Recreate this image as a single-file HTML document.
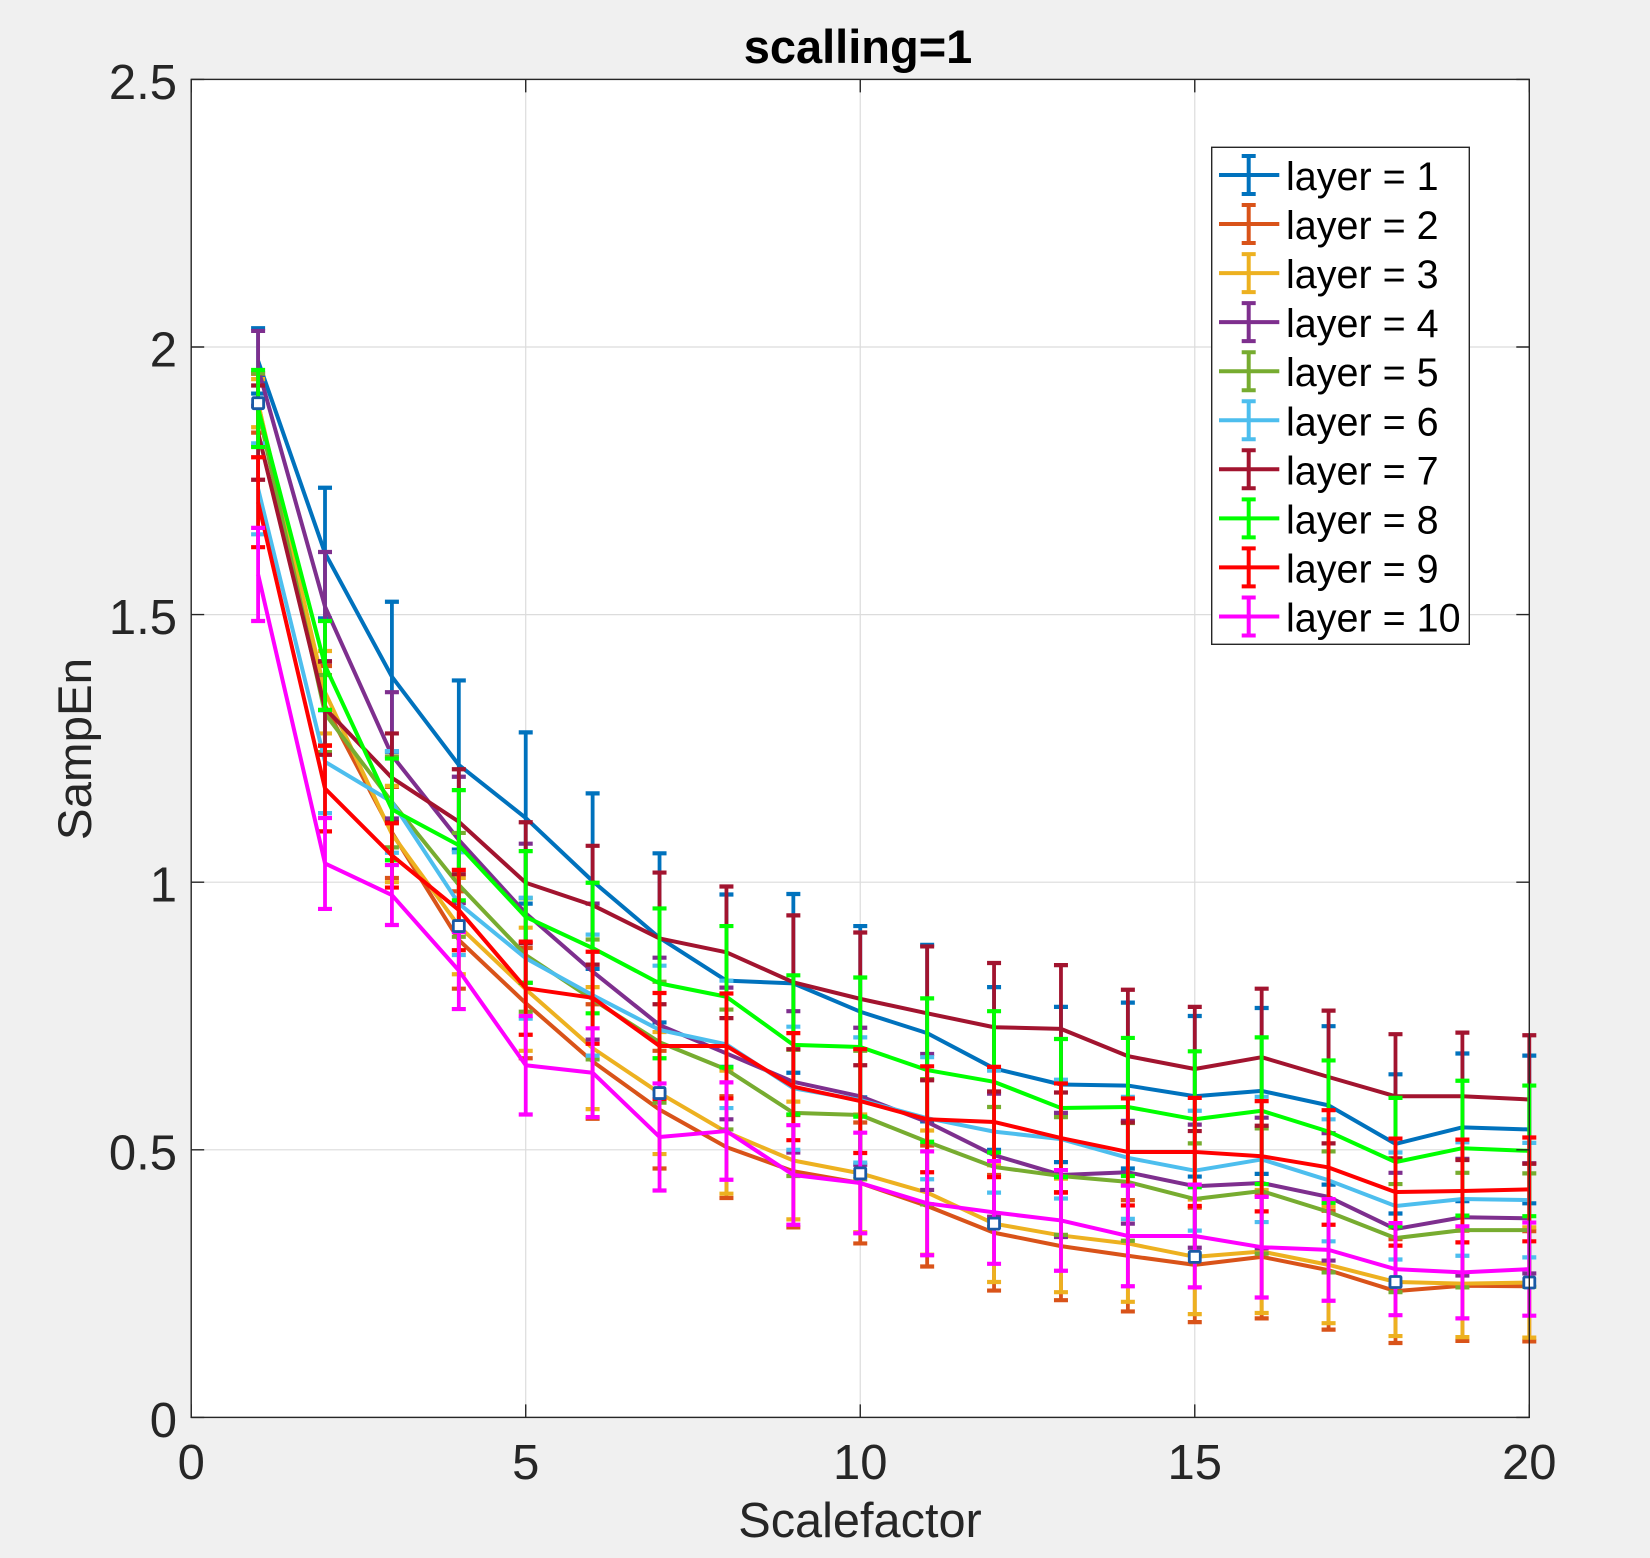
<!DOCTYPE html>
<html lang="en">
<head>
<meta charset="utf-8">
<title>scalling=1</title>
<style>
html,body{margin:0;padding:0;background:#f0f0f0;}
svg{display:block;font-family:"Liberation Sans",sans-serif;}
</style>
</head>
<body>
<svg id="chart" xmlns="http://www.w3.org/2000/svg" width="1650" height="1558" viewBox="0 0 1650 1558">
<rect x="0" y="0" width="1650" height="1558" fill="#f0f0f0"/>
<text x="858" y="63" font-size="47" font-weight="bold" text-anchor="middle" fill="#000">scalling=1</text>
<text x="860" y="1537" font-size="48.7" text-anchor="middle" fill="#262626">Scalefactor</text>
<text transform="translate(91 749) rotate(-90)" font-size="47.5" text-anchor="middle" fill="#262626">SampEn</text>
</svg>
<script>
const categories = [1,2,3,4,5,6,7,8,9,10,11,12,13,14,15,16,17,18,19,20];
const xTickLabels = [0,5,10,15,20];
const yTickValues = [0,0.5,1,1.5,2,2.5];
const yTickLabels = ['0','0.5','1','1.5','2','2.5'];
const seriesNames = ['layer = 1','layer = 2','layer = 3','layer = 4','layer = 5','layer = 6','layer = 7','layer = 8','layer = 9','layer = 10'];

const meanLayer1 = [1.974,1.615,1.384,1.219,1.12,1.002,.896,.816,.811,.758,.718,.652,.622,.62,.60,.61,.583,.511,.542,.538];
const errLayer1 = [.061,.122,.14,.158,.16,.164,.158,.161,.167,.16,.165,.152,.145,.155,.15,.155,.148,.13,.138,.138];
const meanLayer2 = [1.895,1.33,1.093,.892,.774,.665,.575,.505,.46,.438,.395,.345,.32,.302,.285,.30,.275,.236,.246,.245];
const errLayer2 = [.055,.074,.085,.091,.103,.107,.11,.095,.105,.113,.113,.108,.101,.104,.107,.115,.111,.097,.103,.103];
const meanLayer3 = [1.895,1.355,1.09,.918,.80,.69,.606,.533,.48,.456,.42,.362,.34,.325,.30,.31,.285,.253,.25,.252];
const errLayer3 = [.045,.077,.09,.09,.115,.114,.114,.115,.11,.11,.116,.109,.106,.109,.107,.115,.109,.101,.10,.103];
const meanLayer4 = [1.96,1.515,1.237,1.079,.942,.833,.733,.68,.627,.60,.552,.49,.453,.458,.432,.438,.412,.352,.374,.372];
const errLayer4 = [.07,.102,.118,.118,.13,.127,.126,.123,.132,.128,.127,.115,.116,.096,.115,.122,.119,.105,.109,.103];
const meanLayer5 = [1.883,1.315,1.15,.995,.864,.781,.701,.65,.569,.565,.515,.468,.451,.44,.408,.423,.384,.335,.35,.35];
const errLayer5 = [.068,.072,.085,.097,.106,.112,.113,.112,.118,.12,.117,.112,.11,.11,.104,.117,.113,.101,.107,.106];
const meanLayer6 = [1.735,1.225,1.15,.96,.858,.789,.724,.697,.615,.593,.559,.534,.52,.485,.461,.482,.443,.395,.408,.406];
const errLayer6 = [.085,.096,.095,.096,.113,.113,.12,.119,.115,.117,.114,.114,.111,.114,.112,.117,.114,.1,.106,.107];
const meanLayer7 = [1.84,1.325,1.195,1.113,.999,.957,.895,.869,.813,.782,.755,.729,.726,.675,.651,.673,.636,.60,.60,.594];
const errLayer7 = [.088,.087,.083,.098,.113,.111,.123,.123,.125,.124,.125,.12,.119,.124,.116,.128,.124,.116,.119,.12];
const meanLayer8 = [1.885,1.405,1.136,1.069,.935,.877,.811,.786,.696,.692,.649,.627,.578,.58,.557,.573,.534,.477,.503,.498];
const errLayer8 = [.072,.083,.095,.103,.123,.122,.14,.132,.13,.13,.134,.132,.129,.129,.127,.137,.133,.12,.126,.122];
const meanLayer9 = [1.71,1.175,1.05,.948,.802,.784,.694,.694,.618,.591,.557,.552,.522,.496,.496,.488,.467,.421,.423,.426];
const errLayer9 = [.084,.08,.06,.075,.087,.086,.099,.098,.1,.097,.099,.103,.102,.1,.101,.103,.107,.1,.096,.097];
const meanLayer10 = [1.575,1.035,.976,.835,.658,.644,.524,.535,.453,.438,.40,.383,.368,.339,.339,.318,.313,.277,.271,.277];
const errLayer10 = [.087,.085,.056,.072,.092,.083,.1,.091,.093,.094,.097,.096,.094,.094,.096,.094,.095,.086,.086,.087];
const markerCategories = [1,4,7,10,12,15,18,20];

const allMeans = [meanLayer1,meanLayer2,meanLayer3,meanLayer4,meanLayer5,meanLayer6,meanLayer7,meanLayer8,meanLayer9,meanLayer10];
const allErrs = [errLayer1,errLayer2,errLayer3,errLayer4,errLayer5,errLayer6,errLayer7,errLayer8,errLayer9,errLayer10];
const seriesColors = ['#0072BD','#D95319','#EDB120','#7E2F8E','#77AC30','#4DBEEE','#A2142F','#00FF00','#FF0000','#FF00FF'];

const svg = document.getElementById('chart');
const NS = 'http://www.w3.org/2000/svg';
const plotLeft = 191.2, plotRight = 1529.3, plotTop = 79.4, plotBottom = 1417.4;
const xMax = 20, yMax = 2.5;
function xScale(v){ return plotLeft + (v / xMax) * (plotRight - plotLeft); }
function yScale(v){ return plotBottom - (v / yMax) * (plotBottom - plotTop); }
function make(tag, attrs, parent){
  const el = document.createElementNS(NS, tag);
  for (const k in attrs) el.setAttribute(k, attrs[k]);
  (parent || svg).appendChild(el);
  return el;
}

// plot background
const plotBg = make('rect', {x:plotLeft, y:plotTop, width:plotRight-plotLeft, height:plotBottom-plotTop, fill:'#fff'});



// grid lines
const gridGroup = make('g', {stroke:'#dcdcdc', 'stroke-width':1.2});


xTickLabels.forEach(function(t){
  const line = make('line', {x1:xScale(t), x2:xScale(t), y1:plotTop, y2:plotBottom}, gridGroup);
  
  
});
yTickValues.forEach(function(t){
  const line = make('line', {x1:plotLeft, x2:plotRight, y1:yScale(t), y2:yScale(t)}, gridGroup);
  
  
});

// series
allMeans.forEach(function(means, s){
  const color = seriesColors[s];
  const group = make('g', {fill:'none', stroke:color});
  
  
  categories.forEach(function(c, i){
    const x = xScale(c);
    const yHi = yScale(means[i] + allErrs[s][i]);
    const yLo = yScale(means[i] - allErrs[s][i]);
    const bar = make('path', {
      d:'M' + x + ' ' + yHi + 'V' + yLo,
      'stroke-width':3.8
    }, group);
    
    
    const caps = make('path', {
      d:'M' + (x-7) + ' ' + yHi + 'H' + (x+7) + 'M' + (x-7) + ' ' + yLo + 'H' + (x+7),
      'stroke-width':4.2
    }, group);
    
    
  });
  const pts = categories.map(function(c, i){ return xScale(c) + ',' + yScale(means[i]); }).join(' ');
  const line = make('polyline', {points:pts, 'stroke-width':4, 'stroke-linejoin':'round'}, group);
  
  
});

// square markers on layer 3
const markerGroup = make('g', {fill:'#fff', stroke:'#1a5aa6', 'stroke-width':2.8});


markerCategories.forEach(function(c){
  const i = categories.indexOf(c);
  const mx = xScale(c), my = yScale(meanLayer3[i]);
  const m = make('rect', {x:mx-5.5, y:my-5.5, width:11, height:11, rx:1}, markerGroup);
  
  
});

// axes box and ticks
const axisGroup = make('g', {stroke:'#262626', 'stroke-width':1.4, fill:'none'});


const box = make('rect', {x:plotLeft, y:plotTop, width:plotRight-plotLeft, height:plotBottom-plotTop}, axisGroup);


const tickLen = 13;
xTickLabels.forEach(function(t){
  const x = xScale(t);
  const tick = make('path', {d:'M'+x+' '+plotBottom+'v'+(-tickLen)+'M'+x+' '+plotTop+'v'+tickLen}, axisGroup);
  
  
  const label = make('text', {x:x, y:1479, 'font-size':49, 'text-anchor':'middle', fill:'#262626'});
  
  
  label.textContent = String(t);
});
yTickValues.forEach(function(t, i){
  const y = yScale(t);
  const tick = make('path', {d:'M'+plotLeft+' '+y+'h'+tickLen+'M'+plotRight+' '+y+'h'+(-tickLen)}, axisGroup);
  
  
  const label = make('text', {x:177, y:y+19.5, 'font-size':49, 'text-anchor':'end', fill:'#262626'});
  
  
  label.textContent = yTickLabels[i];
});

// legend
const legend = make('g', {});


const legendBox = make('rect', {x:1211.7, y:147.3, width:257.6, height:497, fill:'#fff', stroke:'#262626', 'stroke-width':1.4}, legend);


seriesNames.forEach(function(name, i){
  const rowY = 175 + i * 49.05;
  const entry = make('g', {}, legend);
  
  
  const glyph = make('path', {
    d:'M1219 '+rowY+'H1279.3M1248.7 '+(rowY-19)+'V'+(rowY+19)+'M1241.7 '+(rowY-19)+'H1255.7M1241.7 '+(rowY+19)+'H1255.7',
    fill:'none', stroke:seriesColors[i], 'stroke-width':4
  }, entry);
  
  
  const label = make('text', {x:1286, y:rowY+15, 'font-size':39.5, fill:'#000'}, entry);
  
  
  label.textContent = name;
});
</script>
</body>
</html>
